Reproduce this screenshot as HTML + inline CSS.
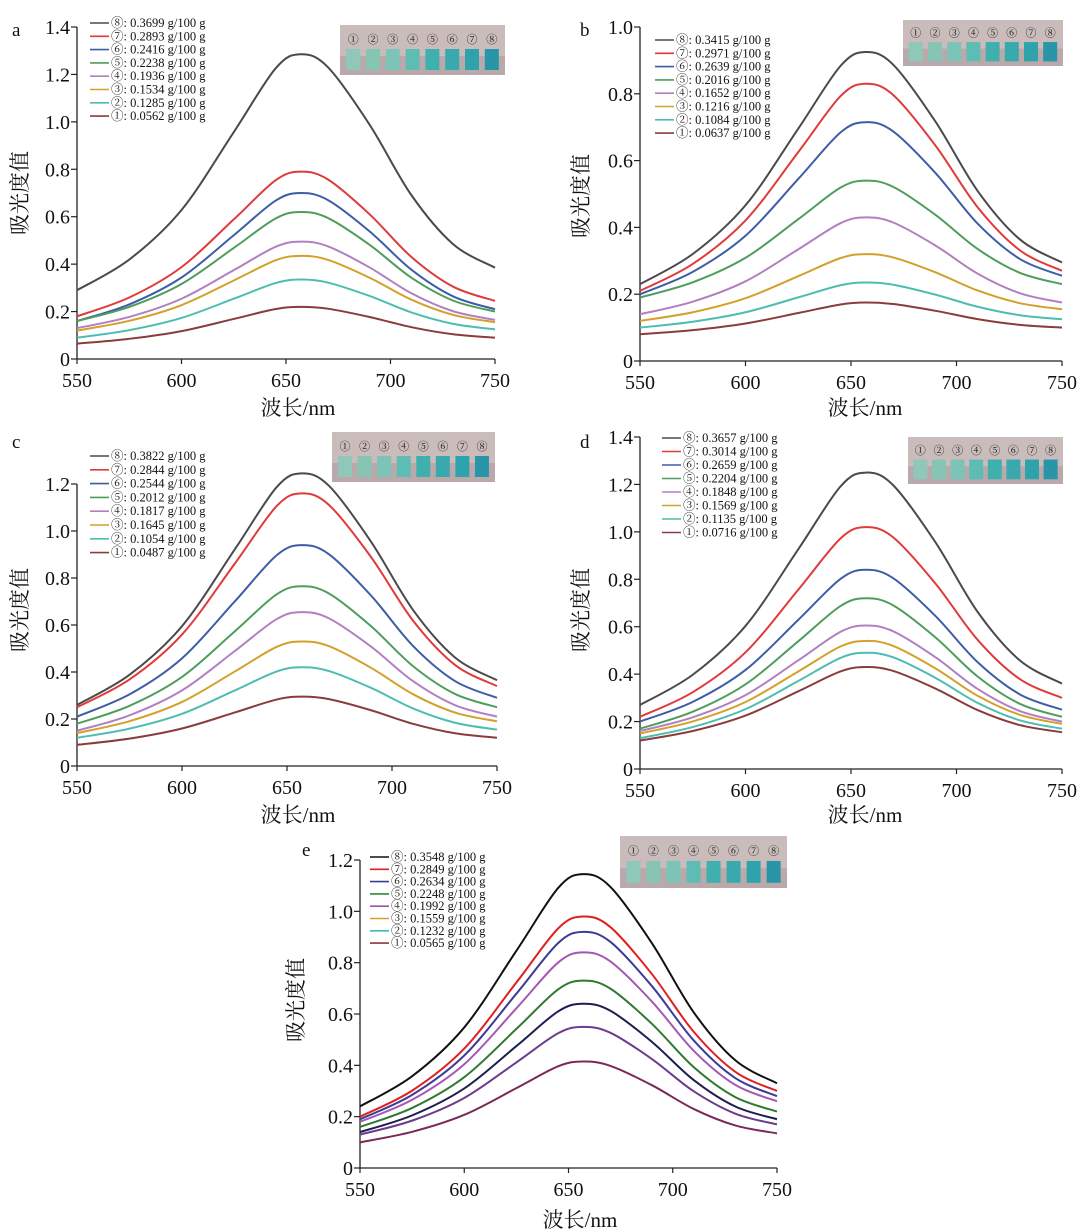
<!DOCTYPE html>
<html><head><meta charset="utf-8">
<style>
html,body{margin:0;padding:0;background:#fff;}
svg{display:block;}
text{font-family:"Liberation Serif","Noto Serif CJK SC",serif;fill:#111;}
</style></head>
<body>
<svg id="fig" width="1080" height="1230" viewBox="0 0 1080 1230" xmlns="http://www.w3.org/2000/svg"></svg>
<script>
// shared data
const wavelengths = [550,575,600,625,645,657,670,690,710,730,750];
const profile = [0,0.13,0.34,0.67,0.94,1,0.94,0.67,0.34,0.11,0];
const colorsStd = ['#4a4a4a','#e03a3a','#3d5da6','#4f9d5c','#b27fc2','#d3a02a','#4dbdb0','#8a3c3c'];
const colorsE = ['#111111','#e02020','#3b3c96','#a457b3','#2e7a30','#1e1e50','#6b3c8c','#7a2a55'];
const legendColorsE = ['#111111','#e02020','#3b3c96','#2e8a40','#a050b0','#d3a02a','#3dbdb0','#8a3c3c'];
const marks = ['⑧','⑦','⑥','⑤','④','③','②','①'];
// panel a
const concA = ['0.3699','0.2893','0.2416','0.2238','0.1936','0.1534','0.1285','0.0562'];
const startA = [0.29,0.18,0.16,0.16,0.13,0.12,0.09,0.065];
const peakA = [1.285,0.79,0.70,0.62,0.495,0.435,0.335,0.22];
const endA = [0.385,0.245,0.21,0.20,0.165,0.155,0.125,0.09];
// panel b
const concB = ['0.3415','0.2971','0.2639','0.2016','0.1652','0.1216','0.1084','0.0637'];
const startB = [0.23,0.21,0.20,0.19,0.14,0.12,0.10,0.08];
const peakB = [0.925,0.83,0.715,0.54,0.43,0.32,0.235,0.175];
const endB = [0.295,0.27,0.255,0.23,0.175,0.155,0.125,0.10];
// panel c
const concC = ['0.3822','0.2844','0.2544','0.2012','0.1817','0.1645','0.1054','0.0487'];
const startC = [0.26,0.25,0.21,0.18,0.15,0.14,0.12,0.09];
const peakC = [1.245,1.16,0.94,0.765,0.655,0.53,0.42,0.295];
const endC = [0.365,0.34,0.29,0.25,0.21,0.19,0.155,0.12];
// panel d
const concD = ['0.3657','0.3014','0.2659','0.2204','0.1848','0.1569','0.1135','0.0716'];
const startD = [0.27,0.22,0.20,0.17,0.16,0.15,0.13,0.12];
const peakD = [1.25,1.02,0.84,0.72,0.605,0.54,0.49,0.43];
const endD = [0.36,0.30,0.25,0.22,0.20,0.19,0.17,0.155];
// panel e
const concE = ['0.3548','0.2849','0.2634','0.2248','0.1992','0.1559','0.1232','0.0565'];
const startE = [0.24,0.20,0.19,0.18,0.16,0.14,0.13,0.10];
const peakE = [1.145,0.98,0.92,0.84,0.73,0.64,0.55,0.415];
const endE = [0.33,0.30,0.28,0.26,0.22,0.19,0.17,0.135];
const xTicks = [550,600,650,700,750];

const panels = [
 {id:'a',x0:77,x1:495,y0:359,yMax:1.4,yTopPx:27,ticks:[0,0.2,0.4,0.6,0.8,1.0,1.2,1.4],conc:concA,s:startA,p:peakA,e:endA,colors:colorsStd,lcolors:colorsStd,letter:[12,36],leg:[90,23,13.3],inset:[340,25,165,50],yl:[22,193],xl:[298,415]},
 {id:'b',x0:640,x1:1062,y0:361,yMax:1.0,yTopPx:27,ticks:[0,0.2,0.4,0.6,0.8,1.0],conc:concB,s:startB,p:peakB,e:endB,colors:colorsStd,lcolors:colorsStd,letter:[580,36],leg:[655,40,13.3],inset:[903,20,160,46],yl:[583,196],xl:[865,415]},
 {id:'c',x0:77,x1:497,y0:766,yMax:1.2,yTopPx:484,ticks:[0,0.2,0.4,0.6,0.8,1.0,1.2],conc:concC,s:startC,p:peakC,e:endC,colors:colorsStd,lcolors:colorsStd,letter:[12,448],leg:[90,456,13.8],inset:[332,432,163,50],yl:[22,610],xl:[298,822]},
 {id:'d',x0:640,x1:1062,y0:769,yMax:1.4,yTopPx:437,ticks:[0,0.2,0.4,0.6,0.8,1.0,1.2,1.4],conc:concD,s:startD,p:peakD,e:endD,colors:colorsStd,lcolors:colorsStd,letter:[580,448],leg:[662,438,13.5],inset:[908,437,155,47],yl:[583,610],xl:[865,822]},
 {id:'e',x0:360,x1:777,y0:1168,yMax:1.2,yTopPx:860,ticks:[0,0.2,0.4,0.6,0.8,1.0,1.2],conc:concE,s:startE,p:peakE,e:endE,colors:colorsE,lcolors:legendColorsE,letter:[302,856],leg:[370,857,12.3],inset:[620,836,167,52],yl:[298,1000],xl:[580,1227]}
];
const NS='http://www.w3.org/2000/svg';
const svg=document.getElementById('fig');
function mk(tag,attrs,parent){const el=document.createElementNS(NS,tag);for(const k in attrs)el.setAttribute(k,attrs[k]);(parent||svg).appendChild(el);return el;}
function fmt(v){return v===0?'0':v.toFixed(1);}
function catmull(pts){let d='M'+pts[0][0]+','+pts[0][1];for(let i=0;i<pts.length-1;i++){const p0=pts[i-1]||pts[i],p1=pts[i],p2=pts[i+1],p3=pts[i+2]||p2;d+=' C'+(p1[0]+(p2[0]-p0[0])/6)+','+(p1[1]+(p2[1]-p0[1])/6)+' '+(p2[0]-(p3[0]-p1[0])/6)+','+(p2[1]-(p3[1]-p1[1])/6)+' '+p2[0]+','+p2[1];}return d;}

panels.forEach(P=>{
 const g=mk('g',{});
 
 
 const xs=w=>P.x0+(w-550)/200*(P.x1-P.x0);
 const ys=v=>P.y0-v/P.yMax*(P.y0-P.yTopPx);
 // axes
 const ax=mk('path',{d:`M${P.x0},${P.yTopPx} L${P.x0},${P.y0} L${P.x1},${P.y0}`,fill:'none',stroke:'#222','stroke-width':1.3},g);
 
 
 P.ticks.forEach(t=>{
  const y=ys(t);
  mk('line',{x1:P.x0-6,x2:P.x0,y1:y,y2:y,stroke:'#222','stroke-width':1.2},g);
  const tl=mk('text',{x:P.x0-7,y:y+7,'text-anchor':'end','font-size':20},g);
  tl.textContent=fmt(t);
  
  
 });
 xTicks.forEach(t=>{
  const x=xs(t);
  mk('line',{x1:x,x2:x,y1:P.y0,y2:P.y0+5,stroke:'#222','stroke-width':1.2},g);
  const tl=mk('text',{x:x,y:P.y0+28,'text-anchor':'middle','font-size':20},g);
  tl.textContent=t;
  
  
 });
 const lt=mk('text',{x:P.letter[0],y:P.letter[1],'font-size':19},g);
 lt.textContent=P.id;
 
 
 const yl=mk('text',{x:P.yl[0],y:P.yl[1],'text-anchor':'middle','font-size':21,transform:`rotate(-90 ${P.yl[0]} ${P.yl[1]})`,'dominant-baseline':'middle'},g);
 yl.textContent='吸光度值';
 
 
 const xl=mk('text',{x:P.xl[0],y:P.xl[1],'text-anchor':'middle','font-size':21},g);
 xl.textContent='波长/nm';
 
 
 // curves
 for(let i=0;i<8;i++){
  const pts=wavelengths.map((w,j)=>{const base=w<=657?P.s[i]:P.e[i];const v=base+(P.p[i]-base)*profile[j];return [xs(w),ys(v)];});
  const c=mk('path',{d:catmull(pts),fill:'none',stroke:P.colors[i],'stroke-width':2},g);
  
  
 }
 // legend
 const [lx,ly,ls]=P.leg;
 for(let i=0;i<8;i++){
  const y=ly+i*ls;
  const le=mk('g',{},g);
  
  
  mk('line',{x1:lx,x2:lx+19,y1:y,y2:y,stroke:P.lcolors[i],'stroke-width':1.6},le);
  const t=mk('text',{x:lx+21,y:y+4,'font-size':12.5},le);
  t.textContent=marks[i]+': '+P.conc[i]+' g/100 g';
 }
 // inset photo
 const [ix,iy,iw,ih]=P.inset;
 const ig=mk('g',{},g);
 
 
 mk('rect',{x:ix,y:iy,width:iw,height:ih,fill:'#cbbcbc'},ig);
 mk('rect',{x:ix,y:iy+ih*0.62,width:iw,height:ih*0.38,fill:'#b9a9aa'},ig);
 const teal=['#8fc7b8','#86c4b4','#7cc4b8','#5dbdb4','#3fb0ae','#3aa9ad','#2fa3ab','#2895a8'];
 for(let k=0;k<8;k++){
  const cx=ix+iw*(0.08+k*0.12);
  const m=mk('text',{x:cx,y:iy+ih*0.36,'text-anchor':'middle','font-size':11,'font-family':'DejaVu Sans'},ig);
  m.textContent=marks[7-k];
  mk('rect',{x:cx-7,y:iy+ih*0.48,width:14,height:ih*0.42,fill:teal[k]},ig);
 }
});
</script>
</body></html>
